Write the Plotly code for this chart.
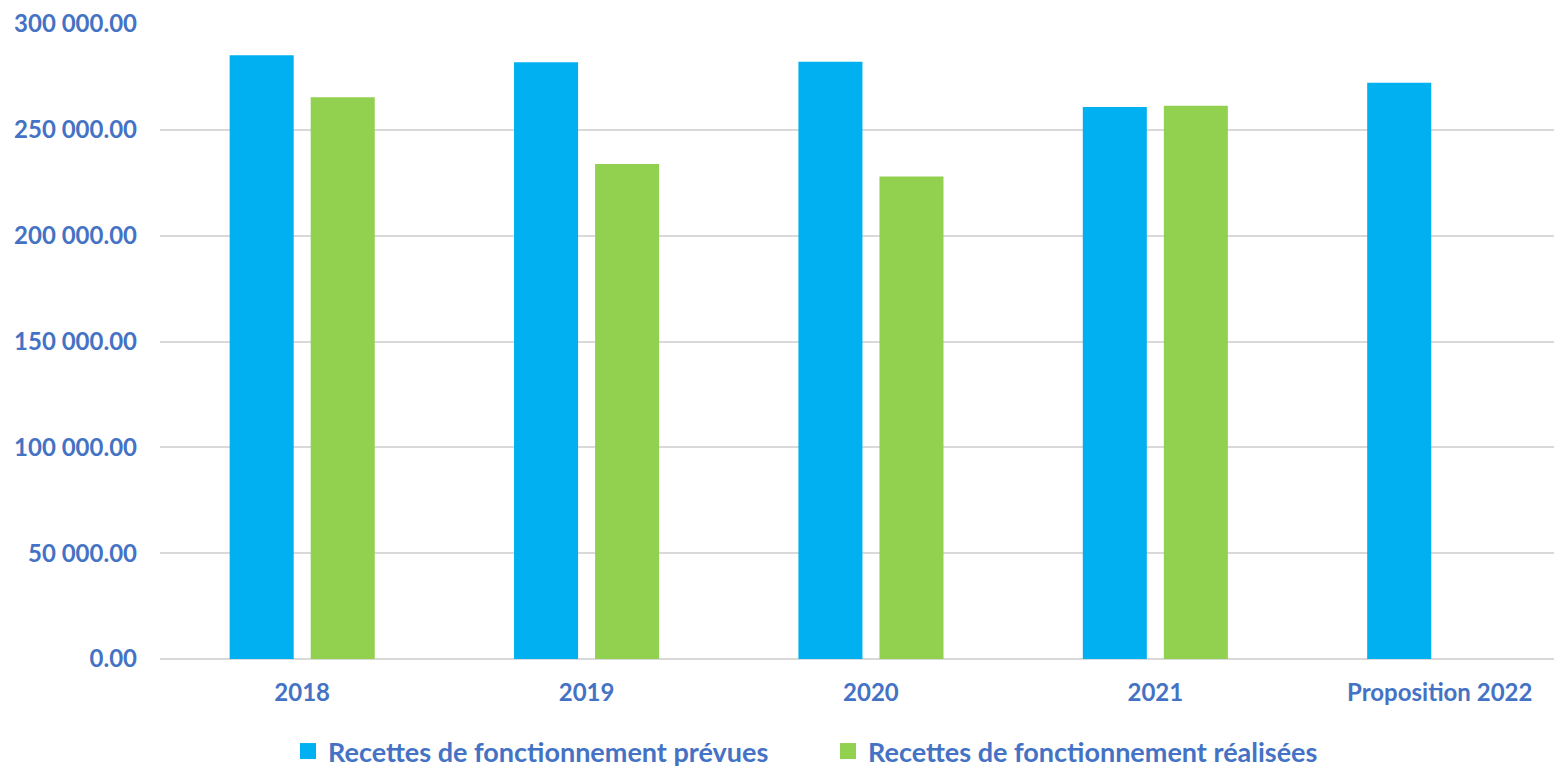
import plotly.graph_objects as go

# données
annees = ["2018", "2019", "2020", "2021", "Proposition 2022"]
prevues = [285200, 281900, 282200, 260800, 272300]
realisees = [265400, 233900, 227900, 261400, None]

noms = ["Recettes de fonctionnement prévues", "Recettes de fonctionnement réalisées"]
bleu = "#00B0F0"
vert = "#92D050"
texte = "#4472C4"
police = "Lato"

fig = go.Figure()
for serie, nom, couleur in [(prevues, noms[0], bleu), (realisees, noms[1], vert)]:
    fig.add_trace(go.Bar(
        x=annees, y=serie, name=nom,
        marker=dict(color=couleur, line=dict(width=0)),
        showlegend=False, legendgroup=nom,
    ))
    # entrée de légende avec un carré plus grand que l'icône des barres
    fig.add_trace(go.Scatter(
        x=[None], y=[None], name=nom, mode="markers",
        marker=dict(symbol="square", size=16, color=couleur, line=dict(width=0)),
        legendgroup=nom,
    ))

# la page html ajoute une marge de 8px autour de la figure
fig.update_layout(
    width=1554, height=768,
    margin=dict(l=152, r=0, t=16, b=116),
    paper_bgcolor="white", plot_bgcolor="white",
    barmode="group", bargap=0.43, bargroupgap=0.21,
    separators=". ",
    font=dict(family=police, size=23, color=texte),
    showlegend=True,
    legend=dict(
        orientation="h", x=0.0913, xanchor="left",
        y=-0.145, yanchor="middle",
        font=dict(family=police, size=27, color=texte, weight="bold"),
        itemwidth=30, entrywidth=495, itemsizing="trace",
    ),
    xaxis=dict(
        range=[-0.5, 4.43],
        showgrid=False, zeroline=False,
        showline=False,
        tickfont=dict(family=police, size=24, color=texte, weight="bold"),
        ticks="", ticklabelstandoff=17,
    ),
    yaxis=dict(
        range=[0, 300000], dtick=50000,
        tickformat=",.2f",
        showgrid=True, gridcolor="#D9D9D9", gridwidth=2,
        zeroline=True, zerolinecolor="#D9D9D9", zerolinewidth=2,
        tickfont=dict(family=police, size=24, color=texte, weight="bold"),
        ticks="", ticklabelstandoff=22,
    ),
)

fig.write_html("out.html")
